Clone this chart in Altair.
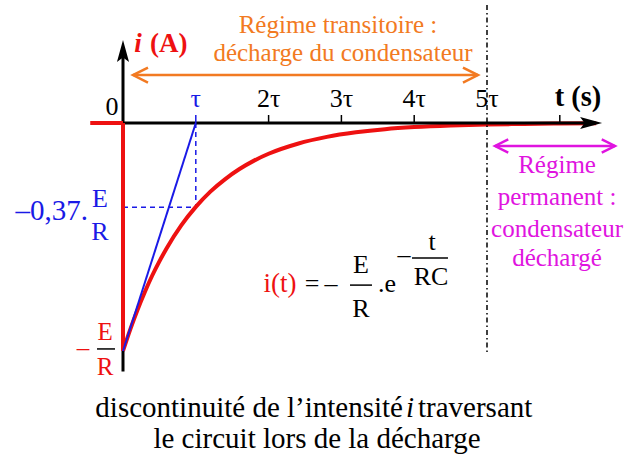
import altair as alt
import pandas as pd

# Discharge of a capacitor: time in units of tau = RC, current in units of E/R
t_vals = [0.0, 0.1, 0.2, 0.3, 0.4, 0.5, 0.6, 0.8, 1.0, 1.2, 1.4, 1.6, 1.8,
          2.0, 2.4, 2.8, 3.2, 3.6, 4.0, 4.5, 5.0, 5.5, 6.0, 6.5]
i_vals = [-1.0, -0.905, -0.819, -0.741, -0.670, -0.607, -0.549, -0.449,
          -0.368, -0.301, -0.247, -0.202, -0.165, -0.135, -0.091, -0.061,
          -0.041, -0.027, -0.018, -0.011, -0.007, -0.004, -0.002, -0.0015]
tick_t = [1, 2, 3, 4, 5]
tick_labels = ["τ", "2τ", "3τ", "4τ", "5τ"]
minor_ticks = [2, 3, 4, 6]
i_tau = -0.37      # current reached after one time constant
t_end = 5          # end of the transient regime (5 tau)

FONT = "'Liberation Serif', 'Times New Roman', Times, serif"
RED = "#ee1111"
BLUE = "#1a1ae6"
ORANGE = "#f27a22"
MAGENTA = "#e014e0"

X = alt.Scale(domain=[-1.6896, 7.0467], nice=False, zero=False)
Y = alt.Scale(domain=[-1.4825, 0.5395], nice=False, zero=False)


def xy(df):
    return alt.Chart(df).encode(
        x=alt.X("t:Q", scale=X, axis=None),
        y=alt.Y("i:Q", scale=Y, axis=None),
    )


def segments(rows, color, width, dash=None):
    df = pd.DataFrame(rows, columns=["t", "i", "t2", "i2"])
    kw = dict(color=color, strokeWidth=width)
    if dash is not None:
        kw["strokeDash"] = dash
    return alt.Chart(df).mark_rule(**kw).encode(
        x=alt.X("t:Q", scale=X, axis=None),
        y=alt.Y("i:Q", scale=Y, axis=None),
        x2="t2:Q", y2="i2:Q",
    )


def texts(rows, size, color, align="center", weight="normal", style="normal"):
    df = pd.DataFrame(rows, columns=["t", "i", "label"])
    return xy(df).mark_text(
        font=FONT, fontSize=size, color=color, align=align,
        fontWeight=weight, fontStyle=style, baseline="alphabetic",
    ).encode(text="label:N")


def head(t, i, path, size, color, filled=True, width=2.5):
    df = pd.DataFrame({"t": [t], "i": [i]})
    return xy(df).mark_point(
        shape=path, size=size, filled=filled, color=color,
        strokeWidth=width, opacity=1,
    )


ARROW_R = "M1,0 L-1,-0.55 L-0.6,0 L-1,0.55 Z"
ARROW_U = "M0,-1 L-0.55,1 L0,0.6 L0.55,1 Z"
CHEV_R = "M-1,-0.5 L0,0 L-1,0.5"
CHEV_L = "M1,-0.5 L0,0 L1,0.5"

curve = xy(pd.DataFrame({"t": t_vals, "i": i_vals})).mark_line(
    color=RED, strokeWidth=4, interpolate="monotone")

step = segments([[-0.45, 0, 0, 0], [0, 0, 0, i_vals[0]]], RED, 4)

axes = segments([[0, 0, 6.45, 0], [0, -1.09, 0, 0.30]], "black", 3)
x_head = head(6.43, 0, ARROW_R, 484, "black")
y_head = head(0, 0.316, ARROW_U, 484, "black")

ticks = segments([[t, 0, t, 0.035] for t in minor_ticks], "black", 1.5)
tau_tick = segments([[1, 0, 1, 0.035]], BLUE, 1.5)

tau_dashes = segments([[0, i_tau, 1, i_tau], [1, 0.0, 1, i_tau]],
                      BLUE, 1.5, dash=[5, 4])
tangent = segments([[0, i_vals[0], 1, 0]], BLUE, 2)

limit = segments([[t_end, 0.518, t_end, -1.01]], "black", 1.5,
                 dash=[5, 3, 1.5, 3])

# regime arrows
trans = segments([[0.137, 0.2105, 4.876, 0.2105]], ORANGE, 2.5)
trans_l = head(0.137, 0.2105, CHEV_L, 900, ORANGE, filled=False)
trans_r = head(4.876, 0.2105, CHEV_R, 900, ORANGE, filled=False)

perm = segments([[5.11, -0.1009, 6.758, -0.1009]], MAGENTA, 2.5)
perm_l = head(5.11, -0.1009, CHEV_L, 700, MAGENTA, filled=False)
perm_r = head(6.758, -0.1009, CHEV_R, 700, MAGENTA, filled=False)

# axis labels
tick_text = texts([[t, 0.0702, lab] for t, lab in zip(tick_t[1:], tick_labels[1:])],
                  26, "black")
tau_text = texts([[tick_t[0], 0.0702, tick_labels[0]]], 26, BLUE)
zero_text = texts([[-0.151, 0.035, "0"]], 26, "black")
t_title = texts([[6.25, 0.0746, "t (s)"]], 28.5, "black", weight="bold")
i_title = texts([[0.206, 0.311, "i"]], 27, RED, weight="bold", style="italic")
a_title = texts([[0.371, 0.311, "(A)"]], 27, RED, align="left", weight="bold")

# y levels
blue_lvl = texts([[-0.481, -0.425, "–0,37."]], 29, BLUE, align="right")
blue_frac = texts([[-0.316, -0.368, "E"], [-0.316, -0.513, "R"]], 26, BLUE)
red_lvl = texts([[-0.549, -1.022, "–"], [-0.247, -0.952, "E"],
                 [-0.247, -1.105, "R"]], 25, RED)
red_bar = segments([[-0.357, -0.991, -0.110, -0.991]], "black", 1.5)

# regime captions
orange_text = texts([[2.953, 0.395, "Régime transitoire :"],
                     [3.022, 0.272, "décharge du condensateur"]], 25, ORANGE)
magenta_text = texts([[5.962, -0.219, "Régime"],
                      [5.962, -0.360, "permanent :"],
                      [5.962, -0.500, "condensateur"],
                      [5.962, -0.627, "déchargé"]], 25, MAGENTA)

# i(t) = -E/R . exp(-t/RC)
f_red = texts([[2.157, -0.741, "i(t)"]], 27, RED)
f_black = texts([[2.596, -0.741, "="], [2.857, -0.741, "–"],
                 [3.269, -0.658, "E"], [3.269, -0.851, "R"],
                 [3.626, -0.741, ".e"], [3.860, -0.614, "–"],
                 [4.245, -0.557, "t"], [4.231, -0.711, "RC"]], 26, "black")
f_bars = segments([[3.118, -0.711, 3.420, -0.711],
                   [3.970, -0.592, 4.464, -0.592]], "black", 1.5)

# caption, with the italic current symbol set on its own
cap_a = texts([[3.846, -1.289, "discontinuité de l’intensité"]], 29, "black",
              align="right")
cap_i = texts([[3.942, -1.289, "i"]], 29, "black", style="italic")
cap_c = texts([[4.052, -1.289, "traversant"]], 29, "black", align="left")
cap_b = texts([[2.665, -1.425, "le circuit lors de la décharge"]], 29, "black")

chart = alt.layer(
    tau_dashes, curve, axes, x_head, y_head, step, ticks, tau_tick, tangent,
    limit, trans, trans_l, trans_r, perm, perm_l, perm_r,
    tick_text, tau_text, zero_text, t_title, i_title, a_title,
    blue_lvl, blue_frac, red_lvl, red_bar, orange_text, magenta_text,
    f_red, f_black, f_bars, cap_a, cap_i, cap_c, cap_b,
).properties(
    width=636, height=461, padding=0, autosize="none", background="white"
).configure_view(stroke=None)

chart.save("out.html", embed_options={"renderer": "svg", "actions": False})
